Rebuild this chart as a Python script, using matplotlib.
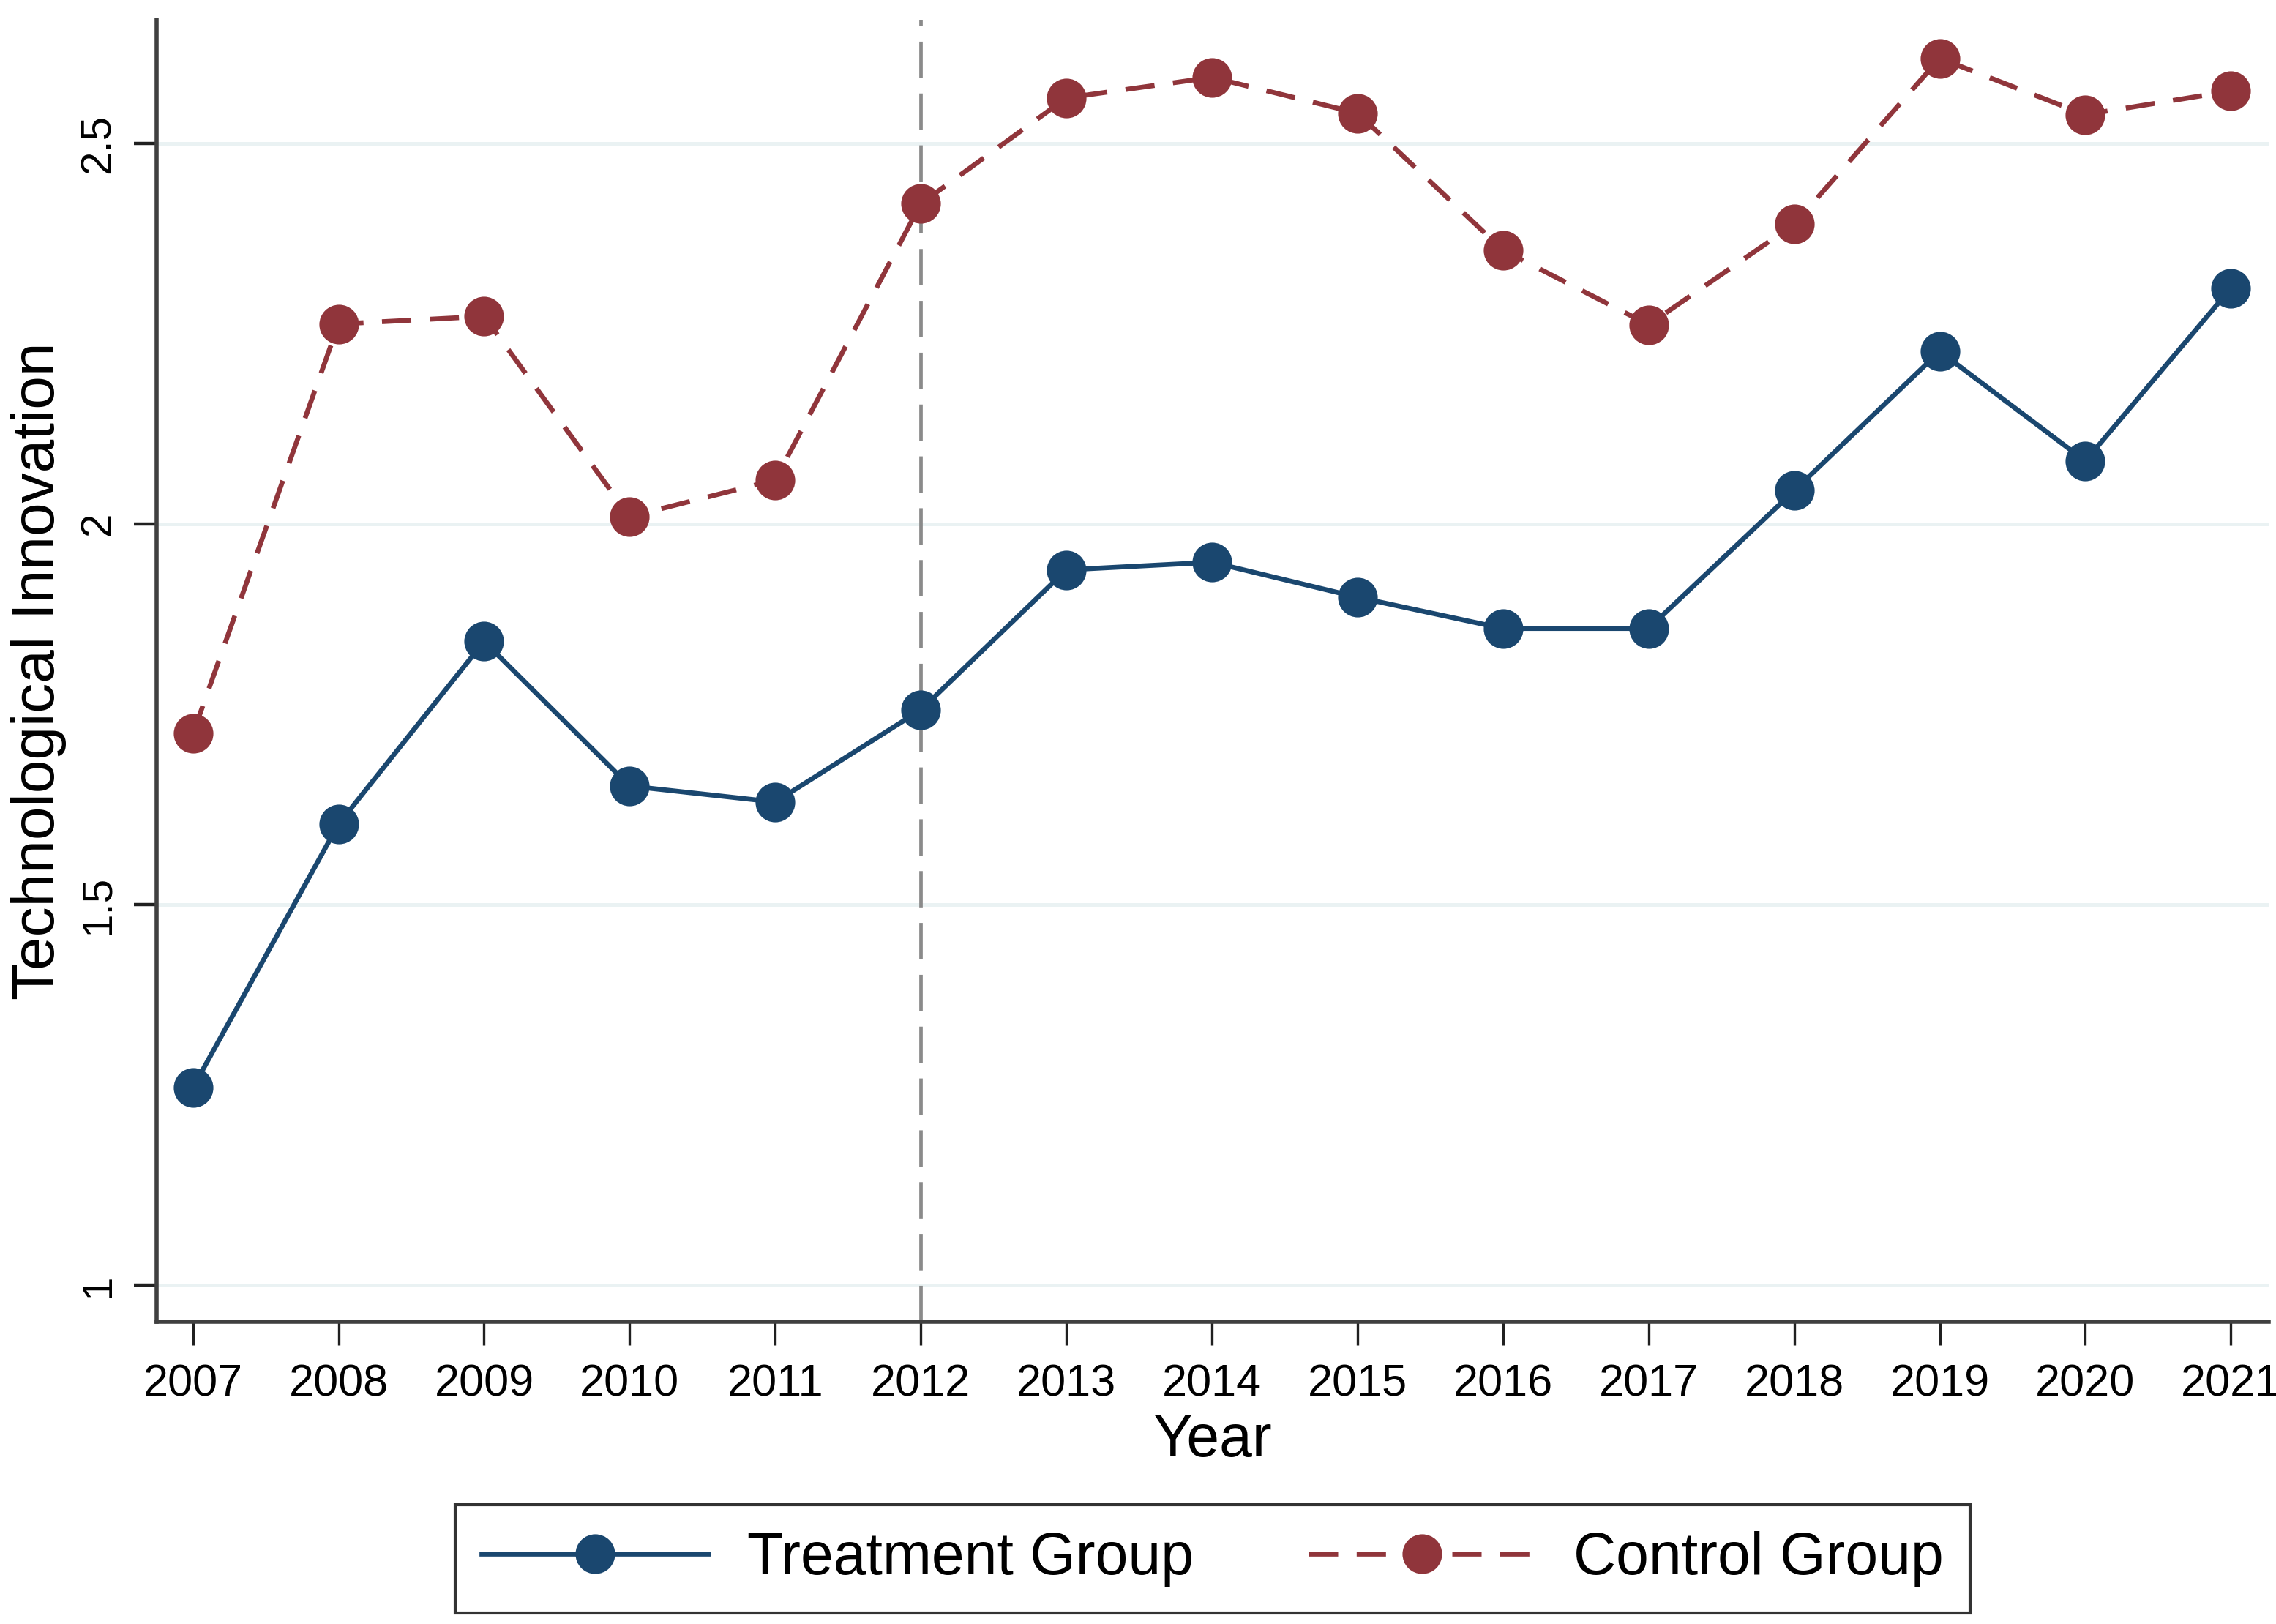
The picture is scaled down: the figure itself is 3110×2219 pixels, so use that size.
import matplotlib
matplotlib.use('Agg')
import matplotlib.pyplot as plt

plt.rcParams['font.family'] = ['Liberation Sans', 'DejaVu Sans']

years = list(range(2007, 2022))
treatment = [1.26, 1.606, 1.846, 1.656, 1.635, 1.756, 1.940, 1.950,
             1.904, 1.863, 1.863, 2.044, 2.227, 2.083, 2.310]
control = [1.725, 2.263, 2.273, 2.010, 2.058, 2.421, 2.560, 2.587,
           2.540, 2.360, 2.262, 2.394, 2.612, 2.538, 2.569]
yticks = [1, 1.5, 2, 2.5]
ytick_labels = ['1', '1.5', '2', '2.5']
policy_year = 2012

navy = '#1a476f'
maroon = '#90353b'

fig = plt.figure(figsize=(15.55, 11.095), dpi=200)
ax = fig.add_axes([0.0688, 0.186, 0.928, 0.802])

for y in yticks:
    ax.axhline(y, color='#eaf2f3', lw=1.8, zorder=0)

ax.axvline(policy_year, color='#8a8a8a', lw=1.7, ls=(0, (10.5, 4.5)), zorder=1)

ax.plot(years, treatment, color=navy, lw=2.4, marker='o', ms=18.5,
        label='Treatment Group', zorder=3)
ax.plot(years, control, color=maroon, lw=2.4, ls=(0, (6, 3.8)), marker='o',
        ms=18.5, label='Control Group', zorder=3)

ax.set_xlim(2006.75, 2021.26)
ax.set_ylim(0.952, 2.663)
ax.set_xticks(years)
ax.set_xticklabels([str(y) for y in years], fontsize=22)
ax.set_yticks(yticks)
ax.set_yticklabels(ytick_labels, fontsize=21, rotation=90, va='center')

for s in ['top', 'right']:
    ax.spines[s].set_visible(False)
for s in ['left', 'bottom']:
    ax.spines[s].set_color('#404040')
    ax.spines[s].set_linewidth(2)

ax.tick_params(axis='x', length=11.5, width=1.2, color='#202020', pad=9)
ax.tick_params(axis='y', length=11, width=1.6, color='#202020', pad=8)

ax.set_xlabel('Year', fontsize=29, labelpad=4)
ax.set_ylabel('Technological Innovation', fontsize=29.5, labelpad=6)

leg = fig.legend(loc='upper center', bbox_to_anchor=(0.5328, 0.0735), ncol=2,
                 fontsize=29, frameon=True, fancybox=False, handlelength=3.85,
                 handletextpad=0.65, columnspacing=1.95, borderpad=0.45,
                 borderaxespad=0, numpoints=1, edgecolor='black')
leg.get_frame().set_linewidth(1.5)

fig.savefig('out.png', dpi=200)
